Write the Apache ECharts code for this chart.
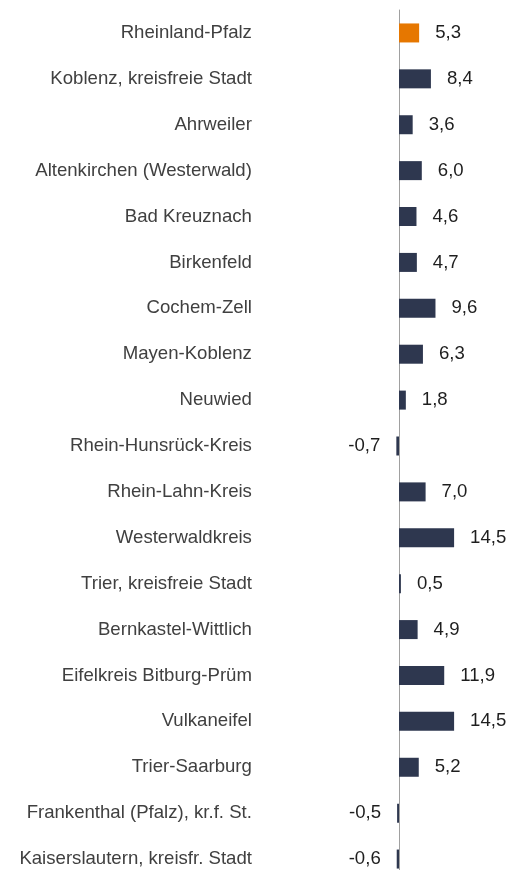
<!DOCTYPE html>
<html>
<head>
<meta charset="utf-8">
<script src="https://cdn.jsdelivr.net/npm/echarts@6/dist/echarts.min.js"></script>
<style>
  html, body { margin: 0; padding: 0; background: #fff; overflow: hidden; }
  #chart { width: 508px; height: 900px; }
</style>
</head>
<body>
<div id="chart"></div>
<script>
// Regions (Kreise / kreisfreie Städte) and their values
const regions = [
  'Rheinland-Pfalz',
  'Koblenz, kreisfreie Stadt',
  'Ahrweiler',
  'Altenkirchen (Westerwald)',
  'Bad Kreuznach',
  'Birkenfeld',
  'Cochem-Zell',
  'Mayen-Koblenz',
  'Neuwied',
  'Rhein-Hunsrück-Kreis',
  'Rhein-Lahn-Kreis',
  'Westerwaldkreis',
  'Trier, kreisfreie Stadt',
  'Bernkastel-Wittlich',
  'Eifelkreis Bitburg-Prüm',
  'Vulkaneifel',
  'Trier-Saarburg',
  'Frankenthal (Pfalz), kr.f. St.',
  'Kaiserslautern, kreisfr. Stadt'
];
const values = [5.3, 8.4, 3.6, 6.0, 4.6, 4.7, 9.6, 6.3, 1.8, -0.7, 7.0, 14.5, 0.5, 4.9, 11.9, 14.5, 5.2, -0.5, -0.6];
const highlighted = ['Rheinland-Pfalz'];

const NAVY = '#2e374f';
const ORANGE = '#e67700';
const FONT = '"Liberation Sans", Arial, sans-serif';

const chart = echarts.init(document.getElementById('chart'));

const seriesData = values.map((v, i) => ({
  value: v,
  itemStyle: { color: highlighted.includes(regions[i]) ? ORANGE : NAVY },
  label: { position: v < 0 ? 'left' : 'right' }
}));

chart.setOption({
  animation: false,
  grid: { left: 391.4, width: 68.4, top: 10, height: 872 },
  xAxis: {
    type: 'value',
    min: -2,
    max: 16,
    show: false
  },
  yAxis: {
    type: 'category',
    data: regions,
    inverse: true,
    axisLine: { show: true, onZero: true, lineStyle: { color: '#a0a0a0', width: 1 } },
    axisTick: { show: false },
    axisLabel: {
      margin: 139.5,
      color: '#404040',
      fontFamily: FONT,
      fontSize: 18.6
    }
  },
  series: [{
    type: 'bar',
    data: seriesData,
    barWidth: 19,
    label: {
      show: true,
      distance: 16,
      color: '#1e1e1e',
      fontFamily: FONT,
      fontSize: 18.6,
      formatter: p => p.value.toFixed(1).replace('.', ',')
    }
  }]
});
</script>
</body>
</html>
